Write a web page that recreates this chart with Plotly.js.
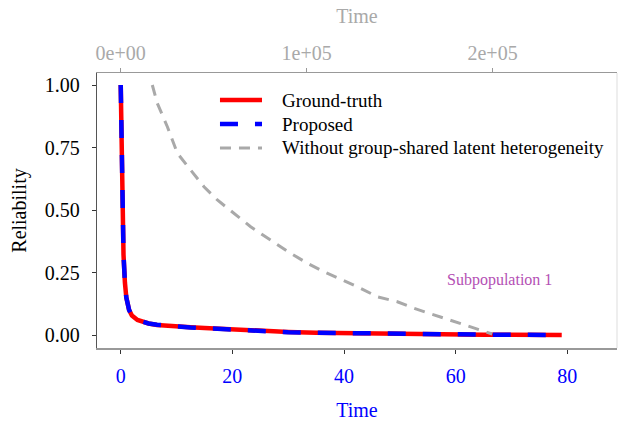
<!DOCTYPE html>
<html>
<head>
<meta charset="utf-8">
<script src="https://cdn.plot.ly/plotly-3.0.1.min.js"></script>
<style>html,body{margin:0;padding:0;background:#fff;}#chart{width:618px;height:421px;}</style>
</head>
<body>
<div id="chart"></div>
<script>
// Ground-truth reliability (bottom time axis)
const truthTime = [0, 0.1, 0.2, 0.3, 0.4, 0.5, 0.75, 1, 1.5, 2, 3, 4, 5, 6.5, 8, 10, 12.5, 15, 18, 21.5, 25, 30, 35, 40, 45, 50, 55, 60, 65, 70, 75, 79];
const truthRel  = [1, 0.8, 0.62, 0.5, 0.4, 0.32, 0.21, 0.15, 0.1, 0.078, 0.06, 0.052, 0.046, 0.04, 0.037, 0.034, 0.031, 0.028, 0.024, 0.02, 0.016, 0.012, 0.009, 0.007, 0.005, 0.004, 0.003, 0.002, 0.0015, 0.001, 0.0005, 0.0002];
// Proposed estimate (bottom time axis)
const propTime = [0, 0.1, 0.2, 0.3, 0.4, 0.5, 0.75, 1, 1.5, 2, 3, 4, 5, 6.5, 8, 10, 12.5, 15, 18, 21.5, 25, 30, 35, 40, 45, 50, 55, 60, 65, 70, 75, 79];
const propRel  = [1, 0.79, 0.61, 0.49, 0.4, 0.32, 0.21, 0.15, 0.1, 0.077, 0.06, 0.051, 0.046, 0.041, 0.037, 0.034, 0.03, 0.027, 0.023, 0.019, 0.015, 0.011, 0.009, 0.007, 0.005, 0.004, 0.003, 0.002, 0.0015, 0.001, 0.0005, 0.0002];
// Without group-shared latent heterogeneity (top time axis)
const woTime = [17000, 19700, 25100, 30500, 37600, 44800, 52000, 60900, 69900, 80600, 90000, 100400, 109300, 119200, 129000, 138000, 148800, 157700, 168500, 179200, 190000, 199800];
const woRel  = [1.0, 0.927, 0.833, 0.727, 0.66, 0.593, 0.54, 0.487, 0.433, 0.38, 0.333, 0.287, 0.253, 0.22, 0.187, 0.153, 0.133, 0.107, 0.08, 0.053, 0.027, 0.004];

const seriesNames = ['Ground-truth', 'Proposed', 'Without group-shared latent heterogeneity'];
const bottomTicks = [0, 20, 40, 60, 80];
const topTickVals = [0, 100000, 200000];
const topTickText = ['0e+00', '1e+05', '2e+05'];
const yTickVals = [0, 0.25, 0.5, 0.75, 1];
const yTickText = ['0.00', '0.25', '0.50', '0.75', '1.00'];

const serif = '"Liberation Serif", "Times New Roman", serif';
const lineStyles = [
  {color: '#FF0000', width: 4.5, dash: 'solid'},
  {color: '#0000FF', width: 4.5, dash: '18px,17px'},
  {color: '#A9A9A9', width: 3, dash: '11px,8px'}
];

const traces = [
  {x: truthTime, y: truthRel, type: 'scatter', mode: 'lines', name: seriesNames[0],
   line: lineStyles[0], xaxis: 'x', yaxis: 'y'},
  {x: propTime, y: propRel, type: 'scatter', mode: 'lines', name: seriesNames[1],
   line: lineStyles[1], xaxis: 'x', yaxis: 'y'},
  {x: woTime, y: woRel, type: 'scatter', mode: 'lines', name: seriesNames[2],
   line: lineStyles[2], xaxis: 'x2', yaxis: 'y'}
];

// manual legend (paper coordinates)
const legX0 = 0.2365, legX1 = 0.3173, legTextX = 0.352;
const legY = [0.9018, 0.8145, 0.7273];
const shapes = [{type: 'line', xref: 'paper', yref: 'paper', x0: 1, x1: 1, y0: 0, y1: 1,
                 line: {color: '#DDDDDD', width: 1}}];
const annotations = [{text: 'Subpopulation 1', xref: 'x', yref: 'y', x: 67.8, y: 0.22, showarrow: false,
                      font: {family: serif, size: 16, color: '#B44FB4'}}];
seriesNames.forEach((nm, i) => {
  shapes.push({type: 'line', xref: 'paper', yref: 'paper', x0: legX0, x1: legX1, y0: legY[i], y1: legY[i],
               line: lineStyles[i]});
  annotations.push({text: nm, xref: 'paper', yref: 'paper', x: legTextX, y: legY[i], xanchor: 'left',
                    yanchor: 'middle', showarrow: false, font: {family: serif, size: 19, color: '#000'}});
});

const layout = {
  width: 618, height: 421,
  margin: {l: 97, r: 1, t: 73, b: 73, pad: 0},
  paper_bgcolor: '#fff', plot_bgcolor: '#fff',
  font: {family: serif, size: 20, color: '#000'},
  showlegend: false,
  xaxis: {range: [-4.25, 88.9], tickvals: bottomTicks, ticks: 'outside', ticklen: 4, tickcolor: '#333',
          showline: true, linecolor: '#999', linewidth: 1.5, showgrid: false, zeroline: false,
          ticklabelstandoff: 5,
          tickfont: {family: serif, size: 20, color: '#0000FF'},
          title: {text: 'Time', font: {family: serif, size: 20, color: '#0000FF'}, standoff: 18}},
  xaxis2: {range: [-12742, 266935], overlaying: 'x', side: 'top', anchor: 'y',
           tickvals: topTickVals, ticktext: topTickText, ticks: 'outside', ticklen: 4, tickcolor: '#999',
           showline: true, linecolor: '#999', linewidth: 1.5, showgrid: false, zeroline: false,
           tickfont: {family: serif, size: 20, color: '#A9A9A9'},
           title: {text: 'Time', font: {family: serif, size: 20, color: '#A9A9A9'}, standoff: 12}},
  yaxis: {range: [-0.052, 1.048], tickvals: yTickVals, ticktext: yTickText, ticks: 'outside', ticklen: 4,
          tickcolor: '#333', showline: true, linecolor: '#555', linewidth: 1.2, showgrid: false, zeroline: false,
          ticklabelstandoff: 8,
          tickfont: {family: serif, size: 20, color: '#000'},
          title: {text: 'Reliability', font: {family: serif, size: 20, color: '#000'}, standoff: 12}},
  shapes: shapes,
  annotations: annotations
};

Plotly.newPlot('chart', traces, layout, {displayModeBar: false, staticPlot: true});
</script>
</body>
</html>
